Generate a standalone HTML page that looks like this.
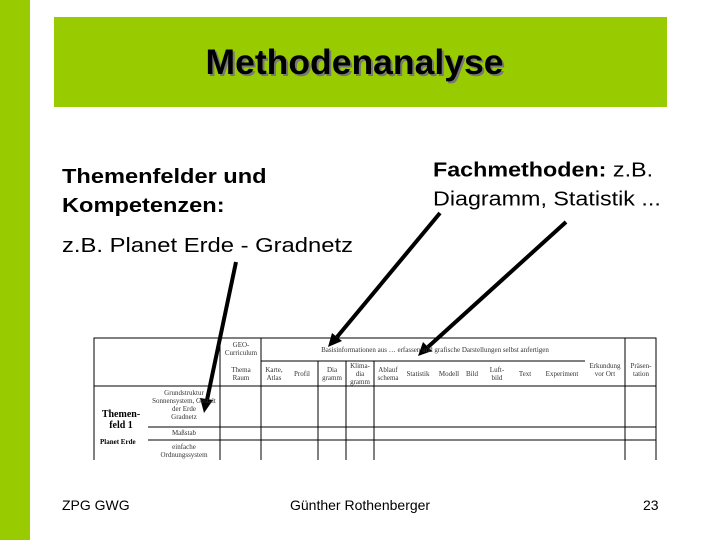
<!DOCTYPE html>
<html><head><meta charset="utf-8"><style>
body{margin:0;width:720px;height:540px;background:#fff;position:relative;overflow:hidden;font-family:"Liberation Sans",sans-serif}
.a{position:absolute;white-space:nowrap}
.t{font-family:"Liberation Serif",serif;font-size:7px;color:#333;text-align:center;line-height:8px}
</style></head><body>
<div class="a" style="left:0;top:0;width:30px;height:540px;background:#99cc00"></div>
<div class="a" style="left:54px;top:17px;width:613px;height:90px;background:#99cc00"></div>
<div class="a" style="left:48px;top:42px;width:613px;text-align:center;font-size:35.5px;font-weight:bold;color:#000;text-shadow:2px 2px 0 #777">Methodenanalyse</div>
<div class="a" style="left:62px;top:163px;font-size:20px;font-weight:bold;line-height:29px;transform:scale(1.18,1);transform-origin:0 0">Themenfelder und<br>Kompetenzen:</div>
<div class="a" style="left:62px;top:234px;font-size:23.8px;transform:scale(1,0.86);transform-origin:0 0">z.B. Planet Erde - Gradnetz</div>
<div class="a" style="left:433px;top:155px;font-size:23.3px;line-height:34px;transform:scale(1,0.86);transform-origin:0 0"><b>Fachmethoden:</b> z.B.<br>Diagramm, Statistik ...</div>
<svg class="a" style="left:0;top:0" width="720" height="540">
<g stroke="#000" fill="none" stroke-width="1">
<polyline points="94,460 94,338 656,338 656,460"/>
<line x1="220" y1="338" x2="220" y2="460"/>
<line x1="261" y1="338" x2="261" y2="460"/>
<line x1="261" y1="361" x2="585" y2="361"/>
<line x1="318" y1="361" x2="318" y2="460"/>
<line x1="346" y1="361" x2="346" y2="460"/>
<line x1="374" y1="361" x2="374" y2="460"/>
<line x1="625" y1="338" x2="625" y2="460"/>
<line x1="94" y1="386" x2="656" y2="386"/>
<line x1="148" y1="427" x2="656" y2="427"/>
<line x1="148" y1="440" x2="656" y2="440"/>
</g>
<g stroke="#000" stroke-width="4">
<line x1="236" y1="262" x2="207" y2="400"/>
<line x1="440" y1="213" x2="337" y2="337"/>
<line x1="566" y1="222" x2="428" y2="347"/>
</g>
<g fill="#000">
<polygon points="204,413 200,398 213,400"/>
<polygon points="328,347 332,333 342,341"/>
<polygon points="418,356 423,342 432,351"/>
</g>
</svg>
<div class="a t" style="left:222px;top:341px;width:38px">GEO-<br>Curriculum</div>
<div class="a t" style="left:270px;top:346px;width:330px">Basisinformationen aus … erfassen und grafische Darstellungen selbst anfertigen</div>
<div class="a t" style="left:222px;top:366px;width:38px">Thema<br>Raum</div>
<div class="a t" style="left:262px;top:366px;width:24px">Karte,<br>Atlas</div>
<div class="a t" style="left:290px;top:370px;width:24px">Profil</div>
<div class="a t" style="left:318px;top:366px;width:28px">Dia<br>gramm</div>
<div class="a t" style="left:346px;top:362px;width:28px">Klima-<br>dia<br>gramm</div>
<div class="a t" style="left:374px;top:366px;width:28px">Ablauf<br>schema</div>
<div class="a t" style="left:404px;top:370px;width:28px">Statistik</div>
<div class="a t" style="left:436px;top:370px;width:26px">Modell</div>
<div class="a t" style="left:462px;top:370px;width:20px">Bild</div>
<div class="a t" style="left:484px;top:366px;width:26px">Luft-<br>bild</div>
<div class="a t" style="left:512px;top:370px;width:26px">Text</div>
<div class="a t" style="left:540px;top:370px;width:44px">Experiment</div>
<div class="a t" style="left:585px;top:362px;width:40px">Erkundung<br>vor Ort</div>
<div class="a t" style="left:626px;top:362px;width:30px">Präsen-<br>tation</div>
<div class="a t" style="left:148px;top:389px;width:72px">Grundstruktur<br>Sonnensystem, Gestalt<br>der Erde<br>Gradnetz</div>
<div class="a t" style="left:148px;top:429px;width:72px">Maßstab</div>
<div class="a t" style="left:148px;top:443px;width:72px">einfache<br>Ordnungssystem</div>
<div class="a" style="left:96px;top:409px;width:50px;text-align:center;font-family:'Liberation Serif',serif;font-weight:bold;font-size:10px;line-height:11px">Themen-<br>feld 1</div>
<div class="a" style="left:100px;top:438px;font-family:'Liberation Serif',serif;font-weight:bold;font-size:7px">Planet Erde</div>
<div class="a" style="left:62px;top:497px;font-size:14px">ZPG GWG</div>
<div class="a" style="left:290px;top:497px;font-size:14px">Günther Rothenberger</div>
<div class="a" style="left:643px;top:497px;font-size:14px">23</div>
</body></html>
